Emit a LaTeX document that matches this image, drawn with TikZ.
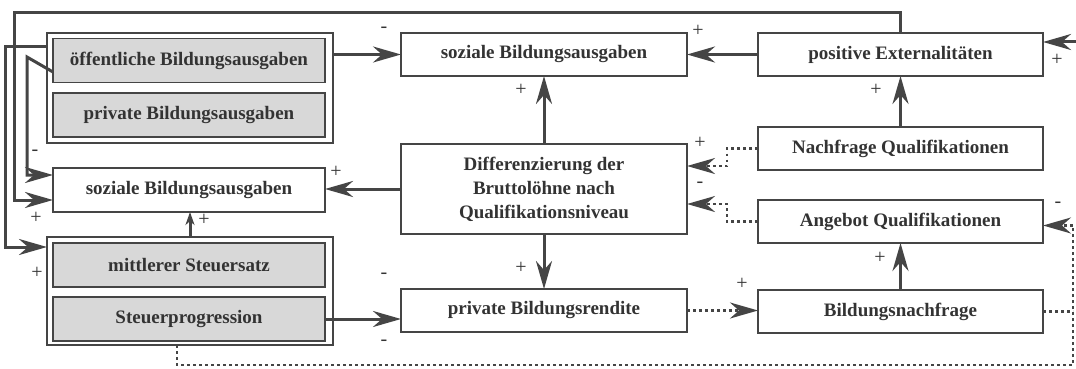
\documentclass[tikz,border=0pt]{standalone}
\usepackage{fontspec}
\setmainfont{Liberation Serif}
\usetikzlibrary{arrows.meta}
\definecolor{ink}{HTML}{454545}
\definecolor{txt}{HTML}{333333}
\definecolor{shade}{HTML}{D8D8D8}
\begin{document}
\begin{tikzpicture}[x=1pt,y=-1pt,
  box/.style={draw=ink, line width=1.8pt, fill=white, minimum width=286pt, minimum height=43pt,
    inner sep=0pt, outer sep=0pt, text=txt, font=\fontsize{19}{24}\selectfont\bfseries, align=center},
  inbox/.style={box, fill=shade, minimum width=272pt, minimum height=44pt},
  grp/.style={draw=ink, line width=1.5pt, minimum width=286pt, inner sep=0pt, outer sep=0pt},
  arr/.style={draw=ink, line width=3pt, line join=miter, -{Stealth[length=28pt,width=16pt,inset=9pt]}},
  arrs/.style={draw=ink, line width=3pt, -{Stealth[length=13pt,width=9pt,inset=4pt]}},
  dotln/.style={draw=ink, line width=2.6pt, dash pattern=on 2.6pt off 3.4pt},
  dotarr/.style={dotln, -{Stealth[length=28pt,width=16pt,inset=9pt]}},
  lab/.style={text=txt, font=\fontsize{20}{20}\selectfont, inner sep=0pt}]
\useasboundingbox (0,0) rectangle (1076,369);

% connectors drawn behind the boxes
\coordinate (tl) at (14,13);
\draw[arr] (900.5,33) |- (tl) |- (53,200);
\coordinate (rc) at (1073,365);
\coordinate (rin) at (1084,42);

% boxes
\node[grp, minimum height=110pt] (grp1) at (190,88) {};
\node[inbox] (oeff) at (189,60.5) {öffentliche Bildungsausgaben};
\node[inbox] (priv) at (189,115) {private Bildungsausgaben};
\node[box, minimum width=272pt, minimum height=44pt] (sozL) at (189,190) {soziale Bildungsausgaben};
\node[grp, minimum height=108pt] (grp2) at (190,291) {};
\node[inbox] (mitt) at (189,265) {mittlerer Steuersatz};
\node[inbox] (prog) at (189,319) {Steuerprogression};
\node[box] (sozT) at (544,54.5) {soziale Bildungsausgaben};
\node[box, minimum height=90pt] (diff) at (544,189) {Differenzierung der\\Bruttolöhne nach\\Qualifikationsniveau};
\node[box] (rend) at (544,310.5) {private Bildungsrendite};
\node[box, minimum width=285pt] (ext) at (900.5,54.5) {positive Externalitäten};
\node[box, minimum width=285pt] (nach) at (900.5,148.5) {Nachfrage Qualifikationen};
\node[box, minimum width=285pt] (ang) at (900.5,221.5) {Angebot Qualifikationen};
\node[box, minimum width=285pt] (bnach) at (900.5,311.5) {Bildungsnachfrage};

% connectors
\draw[arr] (grp1.east |- sozT.west) -- (sozT.west);
\draw[arr] (ext.west) -- (sozT.east);
\draw[arr] (diff.north) -- (sozT.south);
\draw[arr] (nach.north) -- (ext.south);
\draw[dotarr] (nach.west) -- ++(-31,0) |- ([yshift=23pt]diff.east);
\draw[dotarr] (ang.west) -- ++(-31,0) |- ([yshift=-15pt]diff.east);
\draw[arr] (diff.west) -- (diff.west -| sozL.east);
\draw[arrs] (grp2.north) -- (grp2.north |- sozL.south);
\draw[arr] (diff.south) -- (rend.north);
\draw[arr] (prog.east) -- (prog.east -| rend.west);
\draw[dotarr] (rend.east) -- (rend.east -| bnach.west);
\draw[arr] (bnach.north) -- (ang.south);
\draw[dotln] (bnach.east) -- (bnach.east -| rc);
\draw[dotarr] ([xshift=-13pt]grp2.south) |- (rc) |- ([yshift=-4pt]ang.east);
\draw[arr] (rin) -- (rin -| ext.east);
\draw[arr] ([yshift=41pt]grp1.west) -- ++(-42,0) |- ([yshift=44pt]grp2.west);
\draw[arr] ([yshift=-11.5pt]oeff.west) -- ++(-26,-15) |- ([yshift=15pt]sozL.west);

% signs
\node[lab] (s1) at (384,30) {-};
\node[lab] (s2) at (698,31) {+};
\node[lab] (s3) at (521,90) {+};
\node[lab] (s4) at (876,90) {+};
\node[lab] (s5) at (700,143) {+};
\node[lab] (s6) at (700,185) {-};
\node[lab] (s7) at (336,172) {+};
\node[lab] (s8) at (204,220) {+};
\node[lab] (s9) at (521,268) {+};
\node[lab] (s10) at (384,276) {-};
\node[lab] (s11) at (384,343) {-};
\node[lab] (s12) at (742,284) {+};
\node[lab] (s13) at (880,258) {+};
\node[lab] (s14) at (1058,205) {-};
\node[lab] (s15) at (1057,60) {+};
\node[lab] (s16) at (35,153) {-};
\node[lab] (s17) at (36,218) {+};
\node[lab] (s18) at (37,273) {+};
\end{tikzpicture}
\end{document}
